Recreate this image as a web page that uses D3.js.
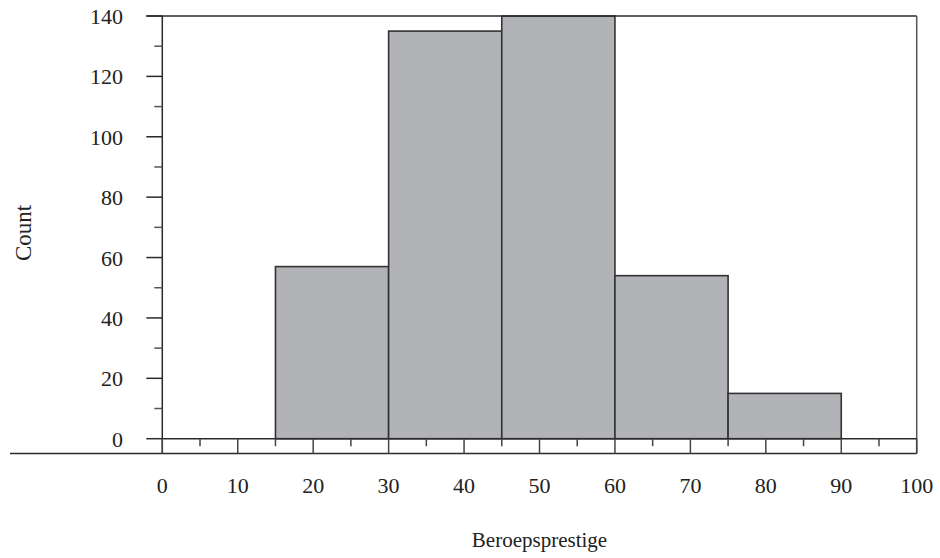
<!DOCTYPE html>
<html><head><meta charset="utf-8">
<script src="https://cdn.jsdelivr.net/npm/d3@7/dist/d3.min.js"></script>
<style>body{margin:0;background:#fff}svg{display:block}</style>
</head><body><svg id="c" width="940" height="558"></svg>
<script>
const binStarts = [15, 30, 45, 60, 75];
const binWidth = 15;
const counts = [57, 135, 140, 54, 15];
const xTicks = [0,10,20,30,40,50,60,70,80,90,100];
const xMinor = [5,15,25,35,45,55,65,75,85,95];
const yTicks = [0,20,40,60,80,100,120,140];
const yMinor = [10,30,50,70,90,110,130];

const svg = d3.select("#c");
const L = 162.3, R = 916.7, T = 16, B = 438.7, AX = 453.5;
const x = d3.scaleLinear().domain([0,100]).range([L,R]);
const y = d3.scaleLinear().domain([0,140]).range([B,T]);
const font = "'Liberation Serif', serif";
const ink = "#2a2a2a";

// bars
svg.append("g").selectAll("rect").data(binStarts).join("rect")
  .attr("x", d => x(d)).attr("width", d => x(d+binWidth)-x(d))
  .attr("y", (d,i) => y(counts[i])).attr("height", (d,i) => B - y(counts[i]))
  .attr("fill", "#b2b3b7").attr("stroke", "#333").attr("stroke-width", 1.6);

// frame lines
svg.append("line").attr("x1", x(0)-16).attr("x2", R).attr("y1", T).attr("y2", T).attr("stroke", ink).attr("stroke-width", 1.5);
svg.append("line").attr("x1", R).attr("x2", R).attr("y1", T).attr("y2", AX).attr("stroke", "#555").attr("stroke-width", 1.5);
svg.append("line").attr("x1", L).attr("x2", L).attr("y1", T).attr("y2", AX).attr("stroke", ink).attr("stroke-width", 1.5);
svg.append("line").attr("x1", L).attr("x2", R).attr("y1", B).attr("y2", B).attr("stroke", ink).attr("stroke-width", 1.5);
svg.append("line").attr("x1", 10).attr("x2", R).attr("y1", AX).attr("y2", AX).attr("stroke", ink).attr("stroke-width", 1.5);

// y ticks
svg.append("g").selectAll("line").data(yTicks).join("line")
  .attr("x1", L-16).attr("x2", L).attr("y1", d=>y(d)).attr("y2", d=>y(d)).attr("stroke", ink).attr("stroke-width", 1.5);
svg.append("g").selectAll("line").data(yMinor).join("line")
  .attr("x1", L-8).attr("x2", L).attr("y1", d=>y(d)).attr("y2", d=>y(d)).attr("stroke", "#555").attr("stroke-width", 1.5);
svg.append("g").selectAll("text").data(yTicks).join("text")
  .attr("x", 123).attr("y", d=>y(d)+8).attr("text-anchor","end")
  .attr("font-family", font).attr("font-size", 22).attr("fill", "#222").text(d=>d);

// x ticks
svg.append("g").selectAll("line").data(xTicks).join("line")
  .attr("x1", d=>x(d)).attr("x2", d=>x(d)).attr("y1", B).attr("y2", AX).attr("stroke", "#444").attr("stroke-width", 1.5);
svg.append("g").selectAll("line").data(xMinor).join("line")
  .attr("x1", d=>x(d)).attr("x2", d=>x(d)).attr("y1", B).attr("y2", B+7.5).attr("stroke", "#444").attr("stroke-width", 1.5);
svg.append("g").selectAll("text").data(xTicks).join("text")
  .attr("x", d=>x(d)).attr("y", 493).attr("text-anchor","middle")
  .attr("font-family", font).attr("font-size", 22).attr("fill", "#222").text(d=>d);

// axis titles
svg.append("text").attr("transform", "translate(31,233) rotate(-90)").attr("text-anchor","middle")
  .attr("font-family", font).attr("font-size", 23).attr("fill", "#222").text("Count");
svg.append("text").attr("x", (L+R)/2).attr("y", 547).attr("text-anchor","middle")
  .attr("font-family", font).attr("font-size", 21).attr("fill", "#222").text("Beroepsprestige");
</script></body></html>
